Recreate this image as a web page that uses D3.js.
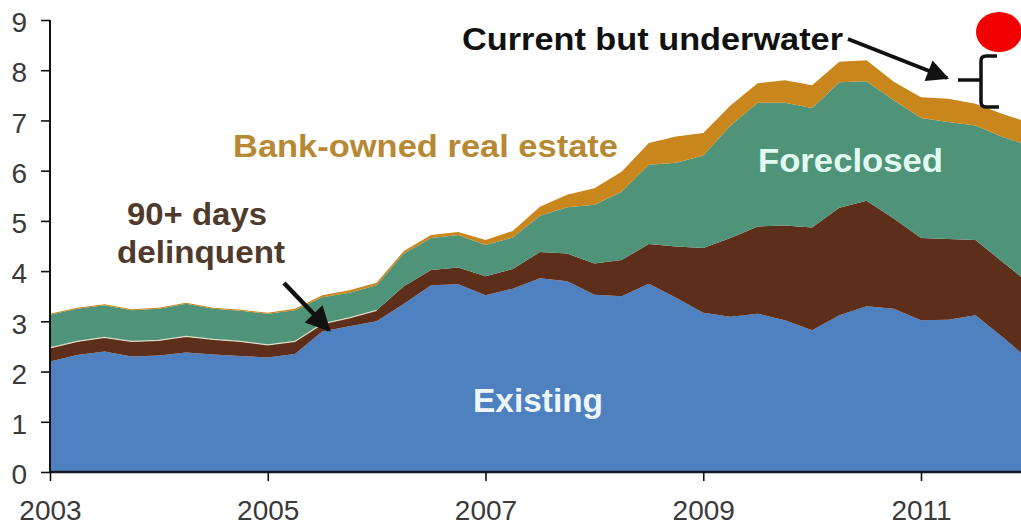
<!DOCTYPE html>
<html>
<head>
<meta charset="utf-8">
<script src="https://cdn.jsdelivr.net/npm/d3@7"></script>
<style>
  html, body { margin: 0; padding: 0; background: #ffffff; }
  svg { display: block; }
  text { font-family: "Liberation Sans", Arial, sans-serif; }
</style>
</head>
<body>
<svg id="chart" width="1021" height="527"></svg>
<script>
// ---- data (millions of homes, quarterly) ----
const quarters = [2003.00, 2003.25, 2003.50, 2003.75, 2004.00, 2004.25, 2004.50, 2004.75,
  2005.00, 2005.25, 2005.50, 2005.75, 2006.00, 2006.25, 2006.50, 2006.75,
  2007.00, 2007.25, 2007.50, 2007.75, 2008.00, 2008.25, 2008.50, 2008.75,
  2009.00, 2009.25, 2009.50, 2009.75, 2010.00, 2010.25, 2010.50, 2010.75,
  2011.00, 2011.25, 2011.50, 2011.75, 2012.00];
const existing = [2.20, 2.33, 2.40, 2.30, 2.32, 2.38, 2.34, 2.31, 2.28, 2.35, 2.80, 2.90, 3.00,
  3.35, 3.72, 3.74, 3.52, 3.65, 3.86, 3.80, 3.53, 3.50, 3.75, 3.47, 3.17, 3.09, 3.15, 3.02,
  2.82, 3.12, 3.30, 3.25, 3.02, 3.03, 3.12, 2.69, 2.22];
const delinquent = [0.27, 0.27, 0.28, 0.30, 0.30, 0.32, 0.30, 0.29, 0.25, 0.25, 0.15, 0.17, 0.22,
  0.35, 0.30, 0.33, 0.38, 0.39, 0.52, 0.55, 0.62, 0.72, 0.79, 1.02, 1.29, 1.57, 1.74, 1.89,
  2.05, 2.14, 2.10, 1.80, 1.64, 1.61, 1.50, 1.49, 1.53];
const foreclosed = [0.66, 0.65, 0.64, 0.62, 0.63, 0.65, 0.61, 0.61, 0.62, 0.62, 0.53, 0.50, 0.50,
  0.65, 0.64, 0.65, 0.62, 0.63, 0.72, 0.92, 1.17, 1.36, 1.58, 1.67, 1.84, 2.24, 2.46, 2.44,
  2.38, 2.50, 2.38, 2.35, 2.39, 2.33, 2.28, 2.49, 2.75];
const bankOwned = [0.02, 0.02, 0.02, 0.02, 0.02, 0.02, 0.02, 0.02, 0.02, 0.03, 0.04, 0.05, 0.05,
  0.05, 0.06, 0.06, 0.10, 0.13, 0.18, 0.25, 0.33, 0.40, 0.43, 0.52, 0.45, 0.40, 0.39, 0.45,
  0.45, 0.41, 0.42, 0.37, 0.41, 0.46, 0.43, 0.46, 0.45];
const seriesKeys = ["existing", "delinquent", "foreclosed", "bankOwned"];
const yTicks = [0, 1, 2, 3, 4, 5, 6, 7, 8, 9];
const xTicks = [2003, 2005, 2007, 2009, 2011];

// ---- build table ----
const rows = quarters.map((q, i) => ({
  t: q,
  existing: existing[i],
  delinquent: delinquent[i],
  foreclosed: foreclosed[i],
  bankOwned: bankOwned[i]
}));

const colors = {
  existing: "#4f80c0",
  delinquent: "#5d2e19",
  foreclosed: "#4f9479",
  bankOwned: "#c8861c"
};

const svg = d3.select("#chart");
const x = d3.scaleLinear().domain([2003, 2011]).range([50, 921]);
const y = d3.scaleLinear().domain([0, 9]).range([472, 20]);

const stacked = d3.stack().keys(seriesKeys)(rows);

const area = d3.area()
  .x(d => x(d.data.t))
  .y0(d => y(d[0]))
  .y1(d => y(d[1]));

svg.append("g")
  .selectAll("path")
  .data(stacked)
  .join("path")
  .attr("d", area)
  .attr("fill", d => colors[d.key]);

// faint light seam between delinquent and foreclosed in the early years
const seam = d3.line()
  .x(d => x(d.data.t))
  .y(d => y(d[1]));
svg.append("path")
  .attr("d", seam(stacked[1].slice(0, 13)))
  .attr("fill", "none")
  .attr("stroke", "#efe9d6")
  .attr("stroke-width", 1.3)
  .attr("opacity", 0.85);

// ---- axes ----
const yAxis = d3.axisLeft(y).tickValues(yTicks).tickSize(9).tickPadding(14).tickFormat(d3.format("d"));
const gy = svg.append("g").attr("transform", "translate(50,0)").call(yAxis);
gy.select(".domain").attr("stroke", "#111").attr("stroke-width", 2).attr("d", "M0,20V472");
gy.selectAll(".tick line").attr("stroke", "#111").attr("stroke-width", 1.6);
gy.selectAll(".tick text")
  .attr("font-size", 28)
  .attr("dy", "0.42em")
  .attr("fill", "#3a3a3a")
  .attr("font-family", "Liberation Sans, Arial, sans-serif");

const xAxis = d3.axisBottom(x).tickValues(xTicks).tickSize(9).tickPadding(19).tickFormat(d3.format("d"));
const gx = svg.append("g").attr("transform", "translate(0,472)").call(xAxis);
gx.select(".domain").attr("stroke", "#141a2a").attr("stroke-width", 2.5).attr("d", "M50,0H1021");
gx.selectAll(".tick line").attr("stroke", "#111").attr("stroke-width", 1.6);
gx.selectAll(".tick text")
  .attr("font-size", 28)
  .attr("fill", "#3a3a3a")
  .attr("font-family", "Liberation Sans, Arial, sans-serif");

// ---- annotations ----
function label(txt, xx, yy, size, color, len) {
  const t = svg.append("text")
    .attr("x", xx).attr("y", yy)
    .attr("font-size", size)
    .attr("font-weight", "bold")
    .attr("fill", color)
    .text(txt);
  if (len) t.attr("textLength", len).attr("lengthAdjust", "spacingAndGlyphs");
  return t;
}

label("Bank-owned real estate", 233, 157, 32, "#b78934", 385);
label("90+ days", 127, 225, 32, "#4f3a2c", 140);
label("delinquent", 117, 263, 32, "#4f3a2c", 168);
label("Existing", 473, 412, 33, "#eef6ff", 130);
label("Foreclosed", 758, 172, 33, "#e2fbf2", 185);
label("Current but underwater", 462, 50, 32, "#111111", 381);

// arrows
const defs = svg.append("defs");
defs.append("marker")
  .attr("id", "ah")
  .attr("viewBox", "0 0 10 10")
  .attr("refX", 9).attr("refY", 5)
  .attr("markerWidth", 6.5).attr("markerHeight", 5.5)
  .attr("markerUnits", "strokeWidth")
  .attr("orient", "auto")
  .append("path").attr("d", "M0,0L10,5L0,10Z").attr("fill", "#111");

svg.append("line")
  .attr("x1", 848).attr("y1", 39).attr("x2", 947).attr("y2", 78)
  .attr("stroke", "#111").attr("stroke-width", 4)
  .attr("marker-end", "url(#ah)");

svg.append("line")
  .attr("x1", 284).attr("y1", 283).attr("x2", 329).attr("y2", 330)
  .attr("stroke", "#111").attr("stroke-width", 4.5)
  .attr("marker-end", "url(#ah)");

// bracket
svg.append("path")
  .attr("d", "M997,56 H986 Q981,56 981,61 V102 Q981,107 986,107 H999 M958,80 H981")
  .attr("fill", "none")
  .attr("stroke", "#111")
  .attr("stroke-width", 3.5);

// red dot
svg.append("ellipse")
  .attr("cx", 999).attr("cy", 32).attr("rx", 23).attr("ry", 20)
  .attr("fill", "#f20000");
</script>
</body>
</html>
